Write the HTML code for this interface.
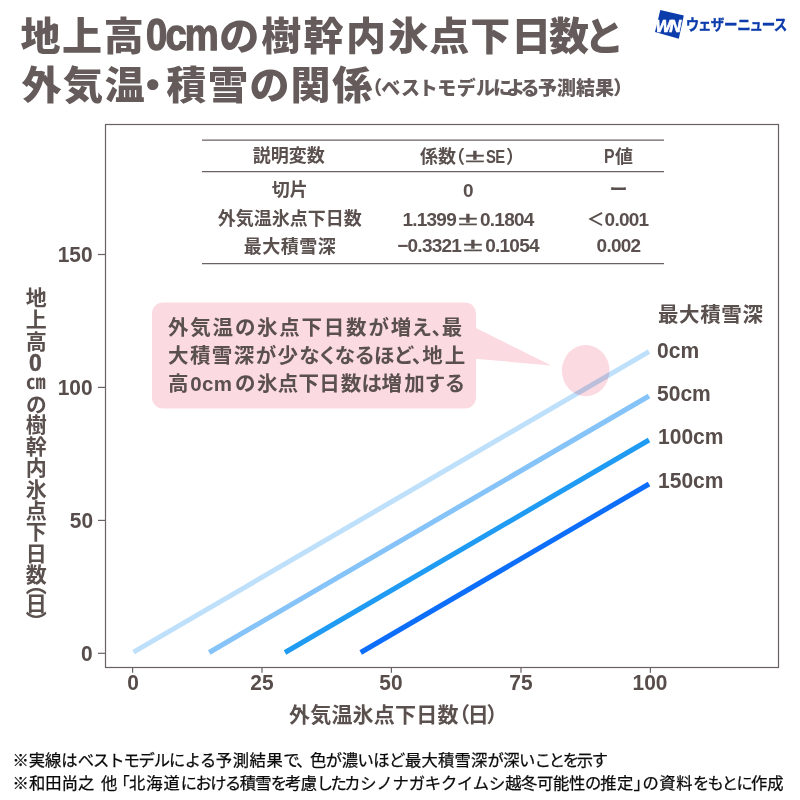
<!DOCTYPE html>
<html lang="ja">
<head>
<meta charset="utf-8">
<title>地上高0cmの樹幹内氷点下日数と外気温・積雪の関係</title>
<style>
html,body{margin:0;padding:0;background:#fff;}
body{width:800px;height:800px;position:relative;overflow:hidden;
  font-family:"Liberation Sans","Noto Sans CJK JP",sans-serif;color:#5a504e;}
.t{position:absolute;white-space:nowrap;line-height:1;margin:0;padding:0;}
.sx{display:inline-block;transform-origin:0 50%;}
svg{position:absolute;left:0;top:0;}
/* title */
.h1{font-size:40px;font-weight:900;color:#655b5b;letter-spacing:1.6px;font-feature-settings:"palt";}
.lt{-webkit-text-stroke:1.4px #655b5b;display:inline-block;letter-spacing:0;font-size:46px;transform-origin:0 50%;vertical-align:baseline;}
.sub{font-size:19px;font-weight:900;color:#655b5b;font-feature-settings:"palt";}
/* axis */
.tick{font-size:22.5px;font-weight:700;color:#574d4b;transform:scaleX(.93);}
.ax{font-size:21px;font-weight:700;letter-spacing:0.5px;color:#5a504e;}
.leg{font-size:22.5px;font-weight:700;color:#574d4b;transform:scaleX(.935);transform-origin:0 50%;}
.tb{font-size:18px;font-weight:700;color:#5a504e;text-align:center;}
.n{font-weight:700;font-size:19px;letter-spacing:-.75px;-webkit-text-stroke:0;}
.pm{position:relative;top:-1px;display:inline-block;width:24px;font-weight:400;font-size:19px;transform:scaleX(1.85);-webkit-text-stroke:.35px #5a504e;text-align:center;}
.hp{display:inline-block;width:8px;text-indent:-9px;text-align:left;}
.hp2{display:inline-block;width:9px;text-indent:0px;text-align:left;}
.hp3{display:inline-block;width:16px;text-indent:-2px;text-align:left;}
.co{font-size:20.5px;font-weight:700;letter-spacing:1.8px;font-feature-settings:"palt";color:#5a504e;}
.fn{font-size:16.3px;font-weight:400;color:#0a0a0a;letter-spacing:0;-webkit-text-stroke:.25px #0a0a0a;}
.logo{font-size:14px;font-weight:700;color:#0c3cab;}
</style>
</head>
<body>
<svg width="800" height="800" viewBox="0 0 800 800">
  <!-- plot frame -->
  <rect x="105.5" y="124.5" width="673" height="543" fill="none" stroke="#6a6163" stroke-width="1.2"/>
  <!-- ticks -->
  <g stroke="#6a6163" stroke-width="1.2">
    <line x1="98" y1="254.5" x2="105.5" y2="254.5"/>
    <line x1="98" y1="387.4" x2="105.5" y2="387.4"/>
    <line x1="98" y1="520.4" x2="105.5" y2="520.4"/>
    <line x1="98" y1="653.3" x2="105.5" y2="653.3"/>
    <line x1="132.6" y1="667.5" x2="132.6" y2="672.7"/>
    <line x1="262" y1="667.5" x2="262" y2="672.7"/>
    <line x1="391.4" y1="667.5" x2="391.4" y2="672.7"/>
    <line x1="521" y1="667.5" x2="521" y2="672.7"/>
    <line x1="650.4" y1="667.5" x2="650.4" y2="672.7"/>
  </g>
  <!-- table rules -->
  <g stroke="#6a6163" stroke-width="1.3">
    <line x1="202" y1="140.2" x2="664" y2="140.2"/>
    <line x1="202" y1="171.6" x2="664" y2="171.6"/>
    <line x1="202" y1="263.7" x2="664" y2="263.7"/>
  </g>
  <!-- callout -->
  <rect x="152" y="302.5" width="324" height="106" rx="11" ry="11" fill="#fbdae1"/>
  <polygon points="475,327.5 551.3,365.5 475,358.8" fill="#fbdae1"/>
  <!-- data lines -->
  <g fill="none" stroke-width="5" stroke-linecap="butt">
    <line x1="133.5" y1="652.2" x2="649" y2="351.7" stroke="#bfe0fa"/>
    <line x1="209.2" y1="652.5" x2="649" y2="396" stroke="#86c3f8"/>
    <line x1="285" y1="652.5" x2="649" y2="440" stroke="#1f9bf3"/>
    <line x1="360.7" y1="652.5" x2="649" y2="484" stroke="#0d6efa"/>
  </g>
  <ellipse cx="585.7" cy="370.6" rx="23.8" ry="25.6" fill="#fbdae1" style="mix-blend-mode:multiply"/>
  <!-- logo mark -->
  <polygon points="660.3,9.9 683.8,15.6 678.8,38.7 655,32.1" fill="#0c3cab"/>
</svg>

<!-- title -->
<div class="t h1" id="h1a" style="left:20.5px;top:13.3px;transform:scaleY(.955);transform-origin:0 0;">地上高<span class="lt" style="width:73.5px;transform:scaleX(.83);margin-left:0.5px;letter-spacing:-2.2px;">0cm</span><span style="letter-spacing:2.4px;">の樹幹内</span><span style="letter-spacing:1px;">氷点下</span><span style="letter-spacing:-2.4px;">日数と</span></div>
<div class="t h1" id="h2a" style="left:21.5px;top:66.8px;transform:scaleY(.955);transform-origin:0 0;">外気温<span style="display:inline-block;width:20px;text-align:center;text-indent:-7px;letter-spacing:0;">・</span>積雪の関係</div>
<div class="t sub" id="sub" style="left:372px;top:79px;letter-spacing:0px;">（<span style="letter-spacing:1.2px;">ベストモデ</span><span style="letter-spacing:-1.8px;">ル</span><span style="letter-spacing:-5px;">に</span><span style="letter-spacing:-2.5px;">よ</span><span style="letter-spacing:-0.5px;">る</span>予測結果）</div>

<!-- logo -->
<div class="t" id="wn" style="left:655.5px;top:17.5px;font-size:16.5px;font-weight:700;font-style:italic;color:#fff;letter-spacing:-1.9px;-webkit-text-stroke:.6px #fff;">WN</div>
<div class="t logo" id="logot" style="left:685.5px;top:17px;-webkit-text-stroke:.35px #0c3cab;font-size:15px;font-feature-settings:'palt';transform:scaleX(.9);transform-origin:0 0;">ウェザーニュース</div>

<!-- table -->
<div class="t tb" style="left:188.7px;width:200px;top:147px;">説明変数</div>
<div class="t tb" style="left:189.7px;width:200px;top:181px;">切片</div>
<div class="t tb" style="left:189.7px;width:200px;top:209.5px;">外気温氷点下日数</div>
<div class="t tb" style="left:190px;width:200px;top:237.5px;letter-spacing:.5px;">最大積雪深</div>
<div class="t tb" id="c2h" style="left:420px;text-align:left;top:147px;">係数<span class="hp">（</span><span class="pm" style="width:22px;">±</span><span class="n" style="display:inline-block;width:20px;transform:scaleX(.78);transform-origin:0 50%;">SE</span><span class="hp2">）</span></div>
<div class="t tb" id="c2a" style="left:368px;width:200px;top:181px;"><span class="n">0</span></div>
<div class="t tb" id="c2b" style="left:368px;width:200px;top:209.5px;"><span class="n">1.1399</span><span class="pm">±</span><span class="n">0.1804</span></div>
<div class="t tb" id="c2c" style="left:368px;width:200px;top:236px;"><span class="n">−0.3321</span><span class="pm">±</span><span class="n">0.1054</span></div>
<div class="t tb" id="c3h" style="left:518.5px;width:200px;top:147px;"><span class="n" style="display:inline-block;font-size:19.8px;width:11px;transform:scaleX(.8);transform-origin:0 50%;">P</span>値</div>
<div class="t tb" id="c3a" style="left:518.5px;width:200px;top:181px;">ー</div>
<div class="t tb" id="c3b" style="left:518.5px;width:200px;top:209.5px;"><span class="hp3">＜</span><span class="n">0.001</span></div>
<div class="t tb" id="c3c" style="left:518.5px;width:200px;top:236px;"><span class="n">0.002</span></div>

<!-- y ticks -->
<div class="t tick" style="right:707.2px;transform-origin:100% 50%;top:243.8px;">150</div>
<div class="t tick" style="right:707.2px;transform-origin:100% 50%;top:376.8px;">100</div>
<div class="t tick" style="right:707.2px;transform-origin:100% 50%;top:509.8px;">50</div>
<div class="t tick" style="right:707.2px;transform-origin:100% 50%;top:642.8px;">0</div>
<!-- x ticks -->
<div class="t tick" style="left:82.6px;width:100px;text-align:center;top:672.4px;">0</div>
<div class="t tick" style="left:212px;width:100px;text-align:center;top:672.4px;">25</div>
<div class="t tick" style="left:341.4px;width:100px;text-align:center;top:672.4px;">50</div>
<div class="t tick" style="left:471px;width:100px;text-align:center;top:672.4px;">75</div>
<div class="t tick" style="left:600.4px;width:100px;text-align:center;top:672.4px;">100</div>

<!-- axis labels -->
<div class="t ax" id="xl" style="left:289px;top:704px;letter-spacing:.2px;font-feature-settings:'palt';">外気温氷点下日数<span style="letter-spacing:-1.3px;">（日）</span></div>
<div class="t ax" id="yl" style="left:22.3px;top:286.7px;writing-mode:vertical-rl;letter-spacing:.3px;font-feature-settings:'vpal';"><span style="letter-spacing:.9px;">地上高</span><span style="text-combine-upright:all;font-size:23px;letter-spacing:0;margin:-1.5px 0 -2.5px 0;position:relative;left:1.2px;-webkit-text-stroke:.5px #5a504e;">0</span><span style="font-size:19.5px;margin-top:3px;margin-bottom:0.5px;letter-spacing:0;">㎝</span><span style="margin-bottom:-1.2px;">の</span><span style="letter-spacing:.45px;">樹幹内氷点下日</span><span style="margin-bottom:-2.3px;">数</span><span style="margin-bottom:-.1px;">（</span><span style="margin-bottom:-3px;">日</span>）</div>

<!-- callout text -->
<div class="t co" style="left:168px;top:317.5px;">外気温の氷点下日数が増<span style="letter-spacing:0.3px;">え</span><span style="letter-spacing:0px;">、</span>最</div>
<div class="t co" style="left:168px;top:345.9px;"><span style="letter-spacing:1.4px;">大積雪深が少</span><span style="letter-spacing:0.1px;">なくなるほど、</span><span style="letter-spacing:2.0px;">地</span>上</div>
<div class="t co" style="left:168px;top:374.3px;">高<span style="letter-spacing:.3px;margin-right:2.7px;">0cm</span>の<span style="letter-spacing:0.3px;">氷点下</span><span style="letter-spacing:0.8px;">日</span><span style="letter-spacing:0.3px;">数</span><span style="letter-spacing:-0.2px;">は</span><span style="letter-spacing:2.2px;">増</span><span style="letter-spacing:1.2px;">加</span><span style="letter-spacing:1.0px;">す</span>る</div>

<!-- legend -->
<div class="t ax" id="lgt" style="left:658px;top:305px;font-size:20.5px;letter-spacing:.6px;">最大積雪深</div>
<div class="t leg" style="left:657.3px;top:339.8px;">0cm</div>
<div class="t leg" style="left:657.3px;top:383.3px;">50cm</div>
<div class="t leg" style="left:658.3px;top:426.3px;">100cm</div>
<div class="t leg" style="left:658.3px;top:469.8px;">150cm</div>

<!-- footnotes -->
<div class="t fn" id="f1" style="left:12.5px;top:752.3px;"><span style="letter-spacing:0px;">※実線は</span><span style="letter-spacing:-1.13px;">ベストモデル</span><span style="letter-spacing:-0.47px;">による</span><span style="letter-spacing:0.57px;">予測結果</span><span style="letter-spacing:-2.55px;">で、</span><span style="letter-spacing:-0.47px;">色が濃いほど</span><span style="letter-spacing:0.24px;">最大積雪深</span><span style="letter-spacing:-0.53px;">が深い</span><span style="letter-spacing:-2.3px;">ことを</span><span style="letter-spacing:-1.2px;">示す</span></div>
<div class="t fn" id="f2" style="left:12.5px;top:775.3px;"><span style="letter-spacing:0.1px;">※和田尚之</span><span style="letter-spacing:2.0px;"> </span><span style="letter-spacing:-3.8px;">他</span><span style="letter-spacing:-0.8px;">「</span><span style="letter-spacing:1.0px;">北海道</span><span style="letter-spacing:-1.55px;">における</span><span style="letter-spacing:-0.8px;">積雪</span><span style="letter-spacing:-2.0px;">を</span><span style="letter-spacing:-0.45px;">考慮</span><span style="letter-spacing:-2.55px;">した</span><span style="letter-spacing:-0.15px;">カシノナガキクイムシ</span><span style="letter-spacing:-0.3px;">越冬可能性</span><span style="letter-spacing:-1.0px;">の</span><span style="letter-spacing:0.3px;">推定</span><span style="letter-spacing:-7.2px;">」</span><span style="letter-spacing:0.4px;">の</span><span style="letter-spacing:0.55px;">資料</span><span style="letter-spacing:-1.7px;">をもとに</span><span style="letter-spacing:0px;">作成</span></div>
</body>
</html>
